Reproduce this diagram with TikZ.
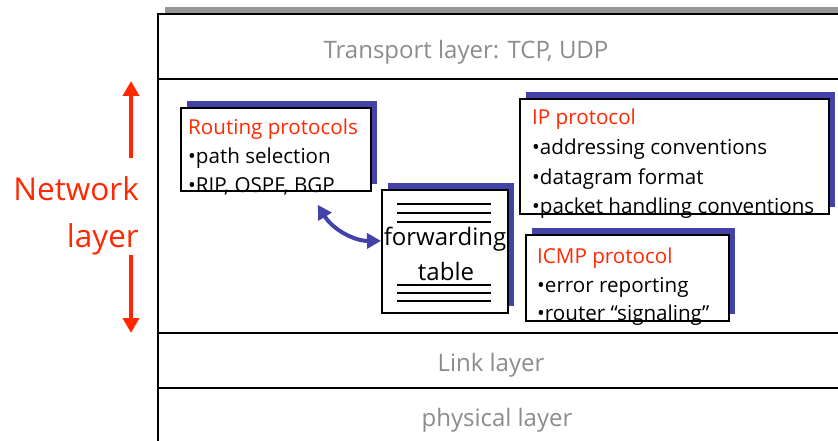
\documentclass[tikz,border=0pt]{standalone}
\usepackage{fontspec}
\setmainfont{Open Sans}
\usetikzlibrary{arrows.meta,shadows}

\definecolor{netred}{RGB}{255,40,0}
\definecolor{shadeblue}{RGB}{66,66,168}
\definecolor{layergray}{RGB}{140,140,140}
\definecolor{bargray}{RGB}{150,150,150}

\begin{document}
\begin{tikzpicture}[x=1pt,y=-1pt,
  frame/.style={draw=black,line width=2pt,fill=white,inner sep=0pt,anchor=north west,
    general shadow={shadow xshift=7pt,shadow yshift=7pt,fill=bargray}},
  sepline/.style={draw=black,line width=2pt},
  protobox/.style={draw=black,line width=1.8pt,fill=white,inner sep=0pt,anchor=north west,
    general shadow={shadow xshift=6pt,shadow yshift=7pt,fill=shadeblue}},
  layertext/.style={text=layergray,inner sep=0pt,anchor=base,font=\fontsize{24}{28}\selectfont},
  boxtext/.style={text=black,inner sep=0pt,anchor=base west,font=\fontsize{20.6}{24}\selectfont},
  boxtitle/.style={boxtext,text=netred},
  tabletext/.style={text=black,inner sep=0pt,anchor=base,font=\fontsize{24}{28}\selectfont},
  nettext/.style={text=netred,inner sep=0pt,anchor=base east,font=\fontsize{31.5}{36}\selectfont},
  tableline/.style={draw=black,line width=1.6pt},
  redarrow/.style={draw=netred,line width=4pt,-{Triangle[width=16pt,length=15pt]}},
  bluearrow/.style={draw=shadeblue,line width=4pt,
    {Triangle[width=15pt,length=14pt]}-{Triangle[width=15pt,length=14pt]}}
]
\useasboundingbox (0,0) rectangle (838,441);

% protocol stack frame and layer boundaries
\node[frame,minimum width=720pt,minimum height=460pt] (stack) at (157,13) {};
\draw[sepline] (157,79) -- (860,79);
\draw[sepline] (157,333) -- (860,333);
\draw[sepline] (157,388) -- (860,388);

\node[layertext] (transport) at (466,59) {Transport layer: TCP, UDP};
\node[layertext] (link) at (491,371) {Link layer};
\node[layertext] (physical) at (497,426) {physical layer};

% network layer label with its extent arrows
\node[nettext] (netA) at (139,200) {Network};
\node[nettext] (netB) at (139,247) {layer};
\coordinate (upS) at (131,158);
\coordinate (upE) at (131,81);
\coordinate (dnS) at (131,255);
\coordinate (dnE) at (131,333);
\draw[redarrow] (upS) -- (upE);
\draw[redarrow] (dnS) -- (dnE);

% routing protocols
\node[protobox,minimum width=190pt,minimum height=83pt] (routing) at (180,107) {};
\node[boxtitle] (rt1) at (188,135) {Routing protocols};
\node[boxtext] (rt2) at (188,164) {•path selection};
\node[boxtext] (rt3) at (188,193) {•RIP, OSPF, BGP};

% forwarding table
\node[protobox,minimum width=126pt,minimum height=123pt] (ftable) at (381,189) {};
\foreach \yy in {204,213,222,285,293,301}
  \draw[tableline] (397,\yy) -- (491,\yy);
\node[tabletext] (ft1) at (445,245) {forwarding};
\node[tabletext] (ft2) at (446,280) {table};

% IP protocol
\node[protobox,minimum width=309pt,minimum height=115pt] (ip) at (519,98) {};
\node[boxtitle] (ip1) at (532,125) {IP protocol};
\node[boxtext] (ip2) at (532,155) {•addressing conventions};
\node[boxtext] (ip3) at (532,184) {•datagram format};
\node[boxtext] (ip4) at (532,213) {•packet handling conventions};

% ICMP protocol
\node[protobox,minimum width=203pt,minimum height=86pt] (icmp) at (525,234) {};
\node[boxtitle] (ic1) at (537,263) {ICMP protocol};
\node[boxtext] (ic2) at (537,292) {•error reporting};
\node[boxtext] (ic3) at (537,320) {•router “signaling”};

% routing <-> forwarding table
\coordinate (rtEnd) at ([xshift=-54pt,yshift=-13pt]routing.south east);
\draw[bluearrow] (rtEnd) .. controls (333,230) and (355,241) .. ([yshift=10.5pt]ftable.west);
\end{tikzpicture}
\end{document}
